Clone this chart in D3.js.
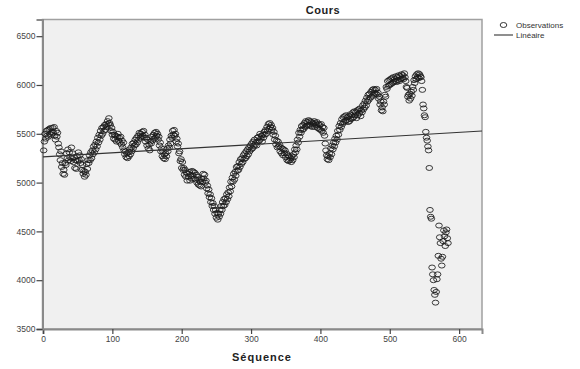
<!DOCTYPE html>
<html>
<head>
<meta charset="utf-8">
<script src="https://cdn.jsdelivr.net/npm/d3@7"></script>
<style>
  body { margin: 0; background: #fff; }
  svg { font-family: "Liberation Sans", Arial, sans-serif; }
</style>
</head>
<body>
<div id="chart"></div>
<script>
// Cours values (one per sequence step)
const cours = [
  5330, 5420, 5500, 5450, 5530, 5480, 5540, 5470, 5550, 5500, 5560, 5490, 5520, 5560, 5510, 5570, 5480, 5440, 5530, 5470,
  5510, 5400, 5360, 5290, 5230, 5320, 5160, 5200, 5090, 5130, 5080, 5200, 5180, 5300, 5250, 5340, 5230, 5310, 5260, 5220,
  5360, 5250, 5300, 5210, 5260, 5150, 5230, 5140, 5270, 5220, 5310, 5230, 5280, 5200, 5240, 5130, 5180, 5090, 5120, 5060,
  5110, 5080, 5190, 5140, 5230, 5200, 5280, 5230, 5310, 5250, 5330, 5290, 5370, 5310, 5390, 5340, 5420, 5370, 5460, 5410,
  5490, 5440, 5530, 5480, 5560, 5500, 5570, 5530, 5590, 5540, 5600, 5570, 5630, 5600, 5660, 5610, 5590, 5530, 5560, 5490,
  5520, 5450, 5490, 5440, 5480, 5420, 5470, 5500, 5430, 5460, 5410, 5470, 5390, 5430, 5360, 5410, 5330, 5290, 5320, 5260,
  5300, 5250, 5310, 5270, 5340, 5290, 5360, 5320, 5400, 5350, 5410, 5380, 5440, 5390, 5460, 5410, 5480, 5440, 5510, 5460,
  5500, 5470, 5520, 5480, 5530, 5460, 5490, 5420, 5460, 5380, 5440, 5350, 5390, 5330, 5420, 5400, 5470, 5430, 5490, 5450,
  5510, 5460, 5520, 5480, 5500, 5440, 5470, 5380, 5410, 5320, 5350, 5270, 5320, 5250, 5290, 5240, 5300, 5270, 5350, 5320,
  5380, 5360, 5440, 5400, 5480, 5460, 5530, 5490, 5540, 5480, 5500, 5420, 5450, 5370, 5400, 5300, 5320, 5220, 5240, 5150,
  5210, 5130, 5150, 5080, 5130, 5060, 5100, 5020, 5090, 5060, 5110, 5020, 5080, 5040, 5120, 5070, 5110, 5040, 5100, 5030,
  5080, 5000, 5060, 4980, 5030, 4970, 5010, 4960, 5040, 5010, 5090, 5040, 5080, 5000, 5020, 4940, 4970, 4890, 4930, 4850,
  4880, 4800, 4840, 4760, 4790, 4720, 4760, 4680, 4720, 4640, 4690, 4620, 4680, 4650, 4720, 4680, 4760, 4720, 4800, 4760,
  4830, 4770, 4840, 4800, 4880, 4830, 4900, 4860, 4950, 4910, 5010, 4960, 5050, 5010, 5090, 5030, 5110, 5070, 5160, 5120,
  5170, 5130, 5210, 5160, 5240, 5190, 5250, 5210, 5280, 5240, 5300, 5250, 5320, 5270, 5340, 5290, 5360, 5320, 5380, 5340,
  5400, 5350, 5420, 5370, 5440, 5390, 5410, 5380, 5460, 5420, 5470, 5430, 5500, 5450, 5480, 5420, 5490, 5460, 5520, 5490,
  5540, 5500, 5570, 5530, 5600, 5550, 5610, 5570, 5590, 5540, 5560, 5490, 5520, 5440, 5480, 5390, 5430, 5360, 5420, 5370,
  5390, 5320, 5360, 5300, 5350, 5280, 5340, 5300, 5330, 5260, 5300, 5230, 5280, 5220, 5270, 5230, 5250, 5210, 5270, 5230,
  5290, 5260, 5340, 5310, 5380, 5340, 5440, 5410, 5510, 5470, 5540, 5510, 5580, 5540, 5590, 5550, 5610, 5570, 5630, 5580,
  5620, 5590, 5640, 5590, 5630, 5580, 5620, 5570, 5610, 5600, 5630, 5570, 5610, 5590, 5620, 5560, 5600, 5550, 5590, 5540,
  5600, 5530, 5570, 5510, 5560, 5480, 5400, 5330, 5280, 5240, 5270, 5230, 5300, 5260, 5350, 5290, 5380, 5340, 5410, 5370,
  5450, 5410, 5480, 5440, 5530, 5490, 5580, 5540, 5610, 5570, 5650, 5600, 5670, 5620, 5680, 5630, 5690, 5640, 5670, 5620,
  5680, 5630, 5700, 5650, 5690, 5660, 5720, 5670, 5730, 5690, 5720, 5660, 5740, 5690, 5750, 5710, 5760, 5680, 5740, 5720,
  5790, 5750, 5810, 5770, 5840, 5790, 5870, 5830, 5900, 5850, 5910, 5870, 5930, 5880, 5950, 5900, 5960, 5920, 5950, 5910,
  5960, 5900, 5920, 5860, 5880, 5800, 5830, 5740, 5770, 5730, 5830, 5800, 5900, 5880, 5980, 5960, 6040, 5990, 6050, 6000,
  6060, 6010, 6070, 6020, 6080, 6030, 6060, 6040, 6090, 6030, 6080, 6050, 6100, 6040, 6090, 6060, 6110, 6070, 6100, 6060,
  6120, 6080, 6040, 5980, 5970, 5880, 5900, 5840, 5910, 5860, 5930, 5890, 5980, 5950, 6050, 6020, 6090, 6060, 6110, 6080,
  6120, 6070, 6110, 6090, 6080, 6040, 5950, 5800, 5760, 5690, 5670, 5520, 5460, 5430, 5370, 5330, 5150, 4720, 4650, 4630,
  4130, 4060, 4000, 3900, 3850, 3770, 3880, 4010, 4060, 4250, 4560, 4440, 4380, 4220, 4150, 4240, 4400, 4510, 4450, 4350,
  4490, 4520, 4430, 4380
];
const data = cours.map((v, i) => ({ seq: i + 1, cours: v }));

const xTicks = [0, 100, 200, 300, 400, 500, 600];
const yTicks = [3500, 4000, 4500, 5000, 5500, 6000, 6500];

// plot frame
const W = 580, H = 369;
const plotLeft = 42.5, plotRight = 482, plotTop = 19.5, plotBottom = 329;

const svg = d3.select("#chart").append("svg")
  .attr("width", W)
  .attr("height", H);

const x = d3.scaleLinear().domain([0, 633]).range([plotLeft + 0.5, plotRight]);
const y = d3.scaleLinear().domain([3500, 6671]).range([plotBottom, plotTop]);

svg.append("rect")
  .attr("x", plotLeft)
  .attr("y", plotTop)
  .attr("width", plotRight - plotLeft)
  .attr("height", plotBottom - plotTop)
  .attr("fill", "#f0f0f0")
  .attr("stroke", "#a0a0a0")
  .attr("stroke-width", 1.5);

// axes
const xAxis = svg.append("g")
  .attr("transform", `translate(0,${plotBottom})`)
  .call(d3.axisBottom(x).tickValues(xTicks).tickSize(5).tickPadding(2).tickFormat(d3.format("d")));
const yAxis = svg.append("g")
  .attr("transform", `translate(${plotLeft},0)`)
  .call(d3.axisLeft(y).tickValues(yTicks).tickSize(6).tickPadding(1).tickFormat(d3.format("d")));

[xAxis, yAxis].forEach(g => {
  g.select(".domain").attr("stroke", "#8a8a8a").attr("stroke-width", 2);
  g.selectAll(".tick line").attr("stroke", "#444").attr("stroke-width", 1.2);
  g.selectAll(".tick text")
    .attr("fill", "#444")
    .attr("font-size", 8.5)
    .attr("font-family", "Liberation Sans, Arial, sans-serif");
});

// linear fit (least squares on the observations)
const mx = d3.mean(data, d => d.seq);
const my = d3.mean(data, d => d.cours);
const slope = d3.sum(data, d => (d.seq - mx) * (d.cours - my)) / d3.sum(data, d => (d.seq - mx) ** 2);
const intercept = my - slope * mx;

// observations
svg.append("g")
  .selectAll("ellipse")
  .data(data)
  .enter()
  .append("ellipse")
  .attr("cx", d => x(d.seq))
  .attr("cy", d => y(d.cours))
  .attr("rx", 3.3)
  .attr("ry", 2.5)
  .attr("fill", "none")
  .attr("stroke", "#1a1a1a")
  .attr("stroke-opacity", 0.85)
  .attr("stroke-width", 1);

svg.append("line")
  .attr("x1", x(0))
  .attr("x2", x(633))
  .attr("y1", y(intercept))
  .attr("y2", y(intercept + slope * 633))
  .attr("stroke", "#333")
  .attr("stroke-width", 1.1);

// titles
svg.append("text")
  .attr("x", 323)
  .attr("y", 14)
  .attr("text-anchor", "middle")
  .attr("font-size", 11)
  .attr("font-weight", "bold")
  .attr("letter-spacing", 0.5)
  .attr("fill", "#222")
  .text("Cours");

svg.append("text")
  .attr("x", 262)
  .attr("y", 361)
  .attr("text-anchor", "middle")
  .attr("font-size", 11)
  .attr("font-weight", "bold")
  .attr("letter-spacing", 1)
  .attr("fill", "#222")
  .text("Séquence");

// legend
const legend = svg.append("g");
legend.append("ellipse")
  .attr("cx", 503.5)
  .attr("cy", 25)
  .attr("rx", 3.3)
  .attr("ry", 2.5)
  .attr("fill", "none")
  .attr("stroke", "#222")
  .attr("stroke-width", 0.9);
legend.append("text")
  .attr("x", 516)
  .attr("y", 28)
  .attr("font-size", 8)
  .attr("fill", "#333")
  .text("Observations");
legend.append("line")
  .attr("x1", 494)
  .attr("x2", 513)
  .attr("y1", 35)
  .attr("y2", 35)
  .attr("stroke", "#333")
  .attr("stroke-width", 1.1);
legend.append("text")
  .attr("x", 516)
  .attr("y", 38)
  .attr("font-size", 8)
  .attr("fill", "#333")
  .text("Linéaire");
</script>
</body>
</html>
